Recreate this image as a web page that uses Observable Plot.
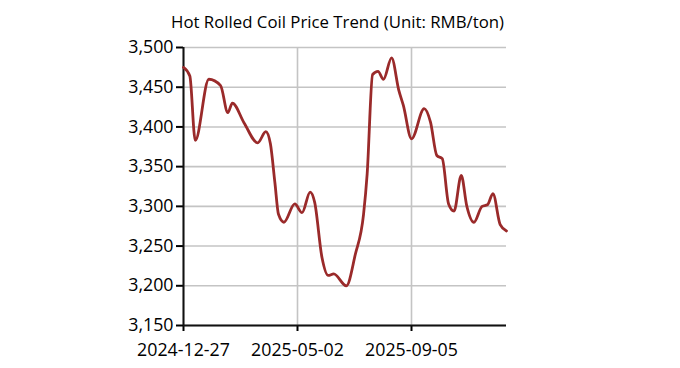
<!DOCTYPE html>
<html>
<head>
<meta charset="utf-8">
<script src="https://cdn.jsdelivr.net/npm/d3@7"></script>
<script src="https://cdn.jsdelivr.net/npm/@observablehq/plot@0.6"></script>
<style>
  html, body { margin: 0; padding: 0; background: #fff; }
  #wrap { position: relative; width: 680px; height: 368px; overflow: hidden; }
  #title { position: absolute; right: 176px; top: 12px; z-index: 2; font-family: "Open Sans", sans-serif; font-size: 16.8px; line-height: 20px; color: #000; white-space: nowrap; }
  #chart { position: absolute; left: 0; top: 0; z-index: 1; }
</style>
</head>
<body>
<div id="wrap">
  <div id="chart"></div>
  <div id="title"></div>
</div>
<script>
const titleText = "Hot Rolled Coil Price Trend (Unit: RMB/ton)";
const dates = [
  "2024-12-27","2025-01-03","2025-01-09","2025-01-24","2025-02-06","2025-02-14","2025-02-19",
  "2025-03-04","2025-03-19","2025-03-28","2025-04-02","2025-04-07","2025-04-11","2025-04-17",
  "2025-04-29","2025-05-07","2025-05-16","2025-05-21","2025-05-29","2025-06-05","2025-06-11",
  "2025-06-25","2025-07-05","2025-07-14","2025-07-18","2025-07-24","2025-07-30","2025-08-05",
  "2025-08-14","2025-08-22","2025-08-27","2025-09-05","2025-09-19","2025-09-26","2025-10-03",
  "2025-10-09","2025-10-16","2025-10-22","2025-10-30","2025-11-05","2025-11-13","2025-11-22",
  "2025-11-28","2025-12-04","2025-12-12","2025-12-19"
];
const prices = [
  3475,3464,3383,3460,3452,3418,3430,
  3405,3380,3394,3379,3330,3290,3280,
  3303,3292,3318,3305,3236,3213,3215,
  3200,3240,3290,3341,3466,3470,3460,
  3487,3446,3427,3385,3423,3406,3364,
  3360,3303,3294,3339,3301,3280,3300,
  3302,3316,3277,3269
];
const xTickLabels = ["2024-12-27","2025-05-02","2025-09-05"];
const yTicks = [3150,3200,3250,3300,3350,3400,3450,3500];
const xDomain = ["2024-12-27","2025-12-19"];

document.getElementById("title").textContent = titleText;

const parse = d3.utcParse("%Y-%m-%d");
const data = dates.map((d, i) => ({date: parse(d), price: prices[i]}));
const xTicks = xTickLabels.map(parse);
const fmtDate = d3.utcFormat("%Y-%m-%d");
const fmtNum = d3.format(",");
const FONT = "Open Sans, sans-serif";

const chart = Plot.plot({
  width: 680,
  height: 368,
  marginLeft: 183,
  marginRight: 174,
  marginTop: 47,
  marginBottom: 43,
  style: {fontFamily: FONT, fontSize: "17.8px", color: "#000", background: "transparent"},
  x: {type: "utc", domain: xDomain.map(parse)},
  y: {domain: [3150, 3500]},
  marks: [
    Plot.gridY(yTicks, {stroke: "#c4c4c4", strokeOpacity: 1, strokeWidth: 1.6}),
    Plot.gridX(xTicks, {stroke: "#c4c4c4", strokeOpacity: 1, strokeWidth: 1.6}),
    Plot.axisY(yTicks, {tickSize: 7, tickPadding: 3, tickFormat: fmtNum, strokeWidth: 2, label: null, fontSize: 17.8}),
    Plot.axisX(xTicks, {tickSize: 6, tickPadding: 12, tickFormat: fmtDate, strokeWidth: 2, label: null, fontSize: 17.8}),
    Plot.ruleX([parse(xDomain[0])], {stroke: "#111", strokeWidth: 2}),
    Plot.ruleY([3150], {stroke: "#111", strokeWidth: 2}),
    Plot.line(data, {x: "date", y: "price", stroke: "#9a2a2a", strokeWidth: 2.8, curve: "monotone-x"})
  ]
});
document.getElementById("chart").appendChild(chart);
</script>
</body>
</html>
